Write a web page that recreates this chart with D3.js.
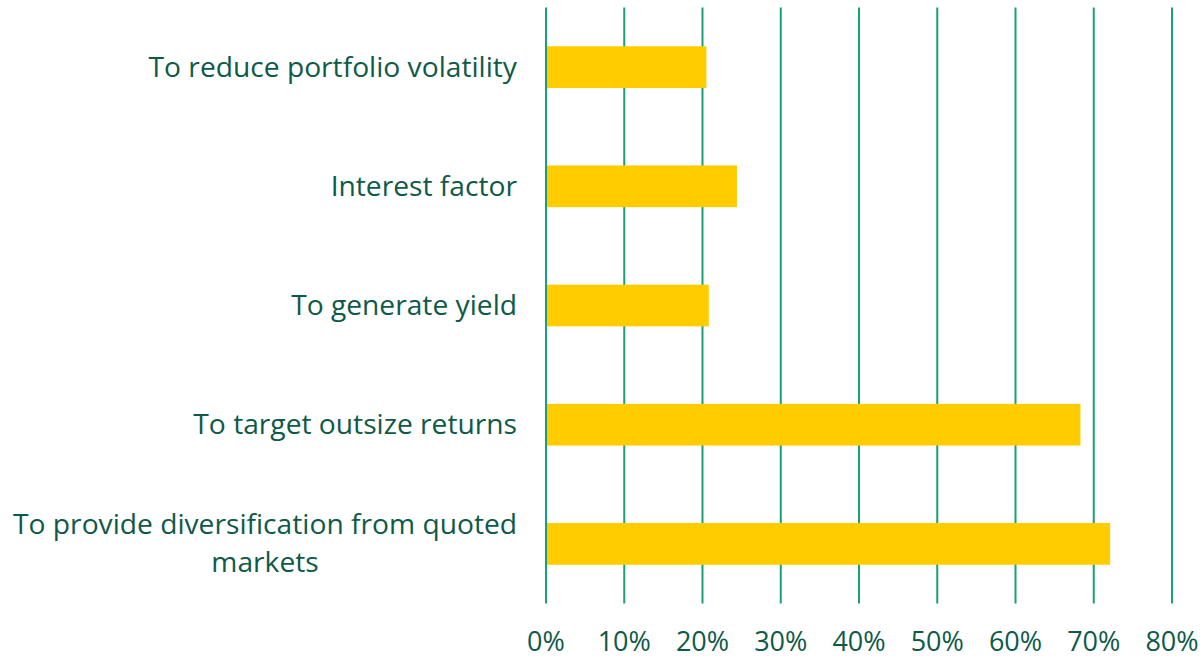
<!DOCTYPE html>
<html><head><meta charset="utf-8">
<script src="https://cdn.jsdelivr.net/npm/d3@7/dist/d3.min.js"></script>
<style>body{margin:0;background:#fff}svg{display:block}</style>
</head><body>
<svg id="c" width="1204" height="659"></svg>
<script>
const categories = [
  "To reduce portfolio volatility",
  "Interest factor",
  "To generate yield",
  "To target outsize returns",
  "To provide diversification from quoted|markets"
];
const values = [0.205, 0.244, 0.208, 0.683, 0.721];
const ticks = [0, 0.1, 0.2, 0.3, 0.4, 0.5, 0.6, 0.7, 0.8];

const svg = d3.select("#c");
const font = "'Open Sans', sans-serif";
const textColor = "#0e5a48";
const x = d3.scaleLinear().domain([0, 0.8]).range([546, 1172]);
const y = d3.scaleBand().domain(categories).range([7.5, 603.5]).paddingInner(0.65).paddingOuter(0.325);

svg.append("g").selectAll("line").data(ticks).join("line")
  .attr("x1", d => x(d)).attr("x2", d => x(d))
  .attr("y1", 7.5).attr("y2", 603.5)
  .attr("stroke", "#17a079").attr("stroke-width", 2);

svg.append("g").selectAll("rect").data(values).join("rect")
  .attr("x", x(0) + 1)
  .attr("y", (d, i) => y(categories[i]))
  .attr("width", d => x(d) - x(0) - 1)
  .attr("height", y.bandwidth())
  .attr("fill", "#ffcc00");

svg.append("g").selectAll("text").data(ticks).join("text")
  .attr("x", d => x(d)).attr("y", 651)
  .attr("text-anchor", "middle")
  .attr("font-family", font).attr("font-size", 27)
  .attr("fill", textColor)
  .text(d3.format(".0%"));

const lab = svg.append("g");
const fs = 28.2;
categories.forEach(c => {
  const lines = c.split("|");
  const cy = y(c) + y.bandwidth() / 2;
  const lh = 38;
  if (lines.length === 1) {
    lab.append("text").attr("x", 517).attr("y", cy + 9.5)
      .attr("text-anchor", "end")
      .attr("font-family", font).attr("font-size", fs).attr("fill", textColor)
      .text(lines[0]);
  } else {
    const g = lab.append("g");
    const ts = lines.map((l, k) => g.append("text")
      .attr("y", cy + 9.5 + (k - (lines.length - 1) / 2) * lh)
      .attr("font-family", font).attr("font-size", fs).attr("fill", textColor)
      .attr("text-anchor", "middle").text(l));
    const maxW = d3.max(ts, t => t.node().getComputedTextLength());
    ts.forEach(t => t.attr("x", 517 - maxW / 2));
  }
});
</script>
</body></html>
